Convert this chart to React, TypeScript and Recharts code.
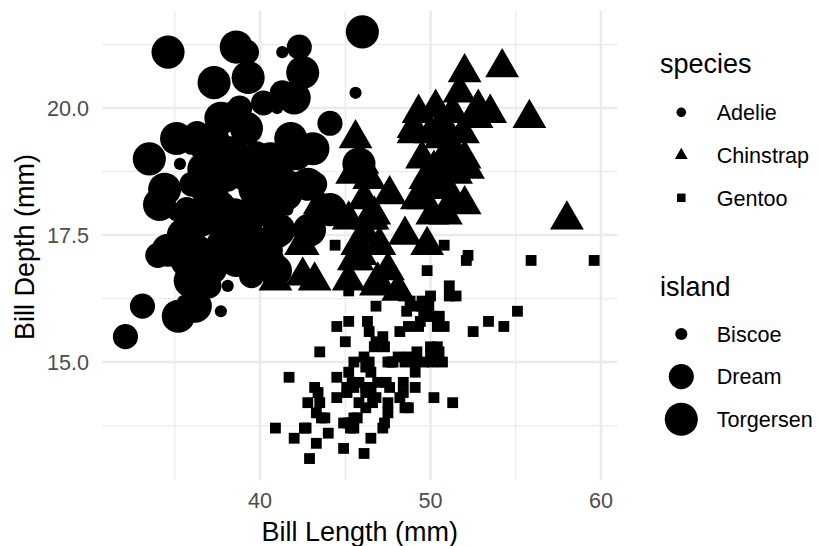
import React from 'react';
import { ScatterChart, Scatter, XAxis, YAxis, CartesianGrid } from 'recharts';

// ---- data (bill length mm, bill depth mm) ----
const adelieTorgersen: [number, number][] = [
  [39.1, 18.7], [39.5, 17.4], [40.3, 18.0], [36.7, 19.3], [39.3, 20.6], [38.9, 17.8], [39.2, 19.6], [34.1, 18.1],
  [42.0, 20.2], [37.8, 17.1], [37.8, 17.3], [41.1, 17.6], [38.6, 21.2], [34.6, 21.1], [36.6, 17.8], [38.7, 19.0],
  [42.5, 20.7], [34.4, 18.4], [46.0, 21.5],
  [35.9, 16.6], [41.8, 19.4], [33.5, 19.0], [39.7, 18.4], [39.6, 17.2], [45.8, 18.9], [35.5, 17.5], [42.8, 18.5],
  [40.9, 16.8], [37.2, 19.4], [36.2, 16.1], [42.1, 19.1], [34.6, 17.2], [42.9, 17.6], [36.7, 18.8], [35.1, 19.4],
  [38.6, 17.0], [37.3, 20.5], [35.7, 17.0], [41.1, 18.6], [36.2, 17.2], [37.7, 19.8], [40.2, 17.0], [41.4, 18.5],
  [35.2, 15.9], [40.6, 19.0], [38.8, 17.6], [41.5, 18.3], [39.0, 17.1], [44.1, 18.0], [38.5, 17.9], [43.1, 19.2],
];

const adelieBiscoe: [number, number][] = [
  [37.8, 18.3], [37.7, 18.7], [35.9, 19.2], [38.2, 18.1], [38.8, 17.2], [35.3, 18.9], [40.6, 18.6], [40.5, 17.9],
  [37.9, 18.6], [40.5, 18.9],
  [39.6, 17.7], [40.1, 18.9], [35.0, 17.9], [42.0, 19.5], [34.5, 18.1], [41.4, 18.6], [39.0, 17.5], [40.6, 18.8],
  [36.5, 16.6], [37.6, 19.1], [35.7, 16.9], [41.3, 21.1], [37.6, 17.0], [41.1, 18.2], [36.4, 17.1], [41.6, 18.0],
  [35.5, 16.2], [41.1, 19.1],
  [35.0, 17.9], [41.0, 20.0], [37.7, 16.0], [37.8, 20.0], [37.9, 18.6], [39.7, 18.9], [38.6, 17.2], [38.2, 20.0],
  [38.1, 17.0], [43.2, 19.0], [38.1, 16.5], [45.6, 20.3], [39.7, 17.7], [42.2, 19.5], [39.6, 20.7], [42.7, 18.3],
];

const adelieDream: [number, number][] = [
  [39.5, 16.7], [37.2, 18.1], [39.5, 17.8], [40.9, 18.9], [36.4, 17.0], [39.2, 21.1], [38.8, 20.0], [42.2, 18.5],
  [37.6, 19.3], [39.8, 19.1], [36.5, 18.0], [40.8, 18.4], [36.0, 18.5], [44.1, 19.7], [37.0, 16.9], [39.6, 18.8],
  [41.1, 19.0], [37.5, 18.9], [36.0, 17.9], [42.3, 21.2],
  [37.3, 17.8], [41.3, 20.3], [36.3, 19.5], [36.9, 18.6], [38.3, 19.2], [38.9, 18.8], [35.7, 18.0], [41.1, 18.1],
  [34.0, 17.1], [39.6, 18.1], [36.2, 17.3], [40.8, 18.9], [38.1, 18.6], [40.3, 18.5], [33.1, 16.1], [43.2, 18.5],
  [36.8, 18.5], [37.5, 18.5],
  [38.1, 17.6], [41.1, 17.5], [35.6, 17.5], [40.2, 20.1], [37.0, 16.5], [39.7, 17.9], [40.2, 17.1], [40.6, 17.2],
  [32.1, 15.5], [40.7, 17.0], [37.3, 16.8], [39.0, 18.7], [39.2, 18.6], [36.6, 18.4], [36.0, 17.8], [37.8, 18.1],
  [36.0, 17.1], [41.5, 18.5],
];

const chinstrapDream: [number, number][] = [
  [46.5, 17.9], [50.0, 19.5], [51.3, 19.2], [45.4, 18.7], [52.7, 19.8], [45.2, 17.8], [46.1, 18.2], [51.3, 18.2],
  [46.0, 18.9], [51.3, 19.9], [46.6, 17.8], [51.7, 20.3], [47.0, 17.3], [52.0, 18.1], [45.9, 17.1], [50.5, 19.6],
  [50.3, 20.0], [58.0, 17.8], [46.4, 18.6], [49.2, 18.2], [42.4, 17.3], [48.5, 17.5], [43.2, 16.6], [50.6, 19.4],
  [46.7, 17.9], [52.0, 19.0], [50.5, 18.4], [49.5, 19.0], [46.4, 17.8], [52.8, 20.0], [40.9, 16.6], [54.2, 20.8],
  [42.5, 16.7], [51.0, 18.8], [49.7, 18.6], [47.5, 16.8], [47.6, 18.3], [52.0, 20.7], [46.9, 16.6], [53.5, 19.9],
  [49.0, 19.5], [46.2, 17.5], [50.9, 19.1], [45.5, 17.0], [50.9, 17.9], [50.8, 18.5], [50.1, 17.9], [49.0, 19.6],
  [51.5, 18.7], [49.8, 17.3], [48.1, 16.4], [51.4, 19.0], [45.7, 17.3], [50.7, 19.7], [42.5, 17.3], [52.2, 18.8],
  [45.2, 16.6], [49.3, 19.9], [50.2, 18.8], [45.6, 19.4], [51.9, 19.5], [46.8, 16.5], [45.7, 17.0], [55.8, 19.8],
  [43.5, 18.1], [49.6, 18.2], [50.8, 19.0], [50.2, 18.7],
];

const gentooBiscoe: [number, number][] = [
  [46.1, 13.2], [50.0, 16.3], [48.7, 14.1], [50.0, 15.2], [47.6, 14.5], [46.5, 13.5], [45.4, 14.6], [46.7, 15.3],
  [43.3, 13.4], [46.8, 15.4], [40.9, 13.7], [49.0, 16.1], [45.5, 13.7], [48.4, 14.6], [45.8, 14.6], [49.3, 15.7],
  [42.0, 13.5], [49.2, 15.2], [46.2, 14.5], [48.7, 15.1], [50.2, 14.3], [45.1, 14.5], [46.5, 14.5], [46.3, 15.8],
  [42.9, 13.1], [46.1, 15.1], [44.5, 14.3], [47.8, 15.0], [48.2, 14.3], [50.0, 15.3], [47.3, 15.3], [42.8, 14.2],
  [45.1, 14.5], [59.6, 17.0], [49.1, 14.8], [48.4, 16.3], [42.6, 13.7], [44.4, 17.3], [44.0, 13.6], [48.7, 15.7],
  [42.7, 13.7], [49.6, 16.0], [45.3, 13.7], [49.6, 15.0], [50.5, 15.9], [43.6, 13.9], [45.5, 13.9], [50.5, 15.9],
  [44.9, 13.3], [45.2, 15.8], [46.6, 14.2], [48.5, 14.1], [45.1, 14.4], [50.1, 15.0], [46.5, 14.4], [45.0, 15.4],
  [43.8, 13.9], [45.5, 15.0], [43.2, 14.5], [50.4, 15.3], [45.3, 13.8], [46.2, 14.9], [45.7, 13.9], [54.3, 15.7],
  [45.8, 14.2], [49.8, 16.8], [46.2, 14.4], [49.5, 16.2], [43.5, 14.2], [50.7, 15.0], [47.7, 15.0], [46.4, 15.6],
  [48.2, 15.6], [46.5, 14.8], [46.4, 15.0], [48.6, 16.0], [47.5, 14.2], [51.1, 16.3], [45.2, 13.8], [45.2, 16.4],
  [49.1, 14.5], [52.5, 15.6], [47.4, 14.6], [50.0, 15.9], [44.9, 13.8], [50.8, 17.3], [43.4, 14.4], [51.3, 14.2],
  [47.5, 14.0], [52.1, 17.0], [47.5, 15.0], [52.2, 17.1], [45.5, 14.5], [49.5, 16.1], [44.5, 14.7], [50.8, 15.7],
  [49.4, 15.8], [46.9, 14.6], [48.4, 14.4], [51.1, 16.5], [48.5, 15.0], [55.9, 17.0], [47.2, 15.5], [49.1, 15.0],
  [47.3, 13.8], [46.8, 16.1], [41.7, 14.7], [53.4, 15.8], [43.3, 14.0], [48.1, 15.1], [50.5, 15.2], [49.8, 15.9],
  [43.5, 15.2], [51.5, 16.3], [46.2, 14.1], [55.1, 16.0], [44.5, 15.7], [48.8, 16.2], [47.2, 13.7], [46.8, 14.3],
  [50.4, 15.7], [45.2, 14.8], [49.9, 16.1],
];

const xTicks = [40, 50, 60];
const yTicks = [15, 17.5, 20];
const xMinor = [35, 45, 55];
const yMinor = [13.75, 16.25, 18.75, 21.25];
const speciesLabels = ['Adelie', 'Chinstrap', 'Gentoo'];
const islandLabels = ['Biscoe', 'Dream', 'Torgersen'];

// ---- styling ----
const FONT = '"Liberation Sans", Arial, Helvetica, sans-serif';
const islandRadius: Record<string, number> = { Biscoe: 6.1, Dream: 12.55, Torgersen: 16.55 };
const speciesKind: Record<string, string> = { Adelie: 'circle', Chinstrap: 'triangle', Gentoo: 'square' };

function Mark({ kind, cx, cy, r }: { kind: string; cx: number; cy: number; r: number }) {
  if (cx == null || cy == null || isNaN(cx) || isNaN(cy)) return null;
  if (kind === 'circle') return <circle cx={cx} cy={cy} r={r} fill="#000" />;
  if (kind === 'triangle') {
    const pts = [
      [cx, cy - 1.5551 * r],
      [cx + 1.3468 * r, cy + 0.7776 * r],
      [cx - 1.3468 * r, cy + 0.7776 * r],
    ]
      .map((p) => p.join(','))
      .join(' ');
    return <polygon points={pts} fill="#000" />;
  }
  const h = 0.8862 * r;
  return <rect x={cx - h} y={cy - h} width={2 * h} height={2 * h} fill="#000" />;
}

const toPts = (arr: [number, number][]) => arr.map(([x, y]) => ({ x, y }));

const groups = [
  { name: 'Adelie-Torgersen', data: toPts(adelieTorgersen), kind: 'circle', r: islandRadius.Torgersen },
  { name: 'Adelie-Biscoe', data: toPts(adelieBiscoe), kind: 'circle', r: islandRadius.Biscoe },
  { name: 'Adelie-Dream', data: toPts(adelieDream), kind: 'circle', r: islandRadius.Dream },
  { name: 'Chinstrap-Dream', data: toPts(chinstrapDream), kind: 'triangle', r: islandRadius.Dream },
  { name: 'Gentoo-Biscoe', data: toPts(gentooBiscoe), kind: 'square', r: islandRadius.Biscoe },
];

function Overlay() {
  const keyX = 681.3;
  const textX = 716.7;
  const speciesBase = [120, 163, 205.5];
  const islandBase = [341.7, 384.3, 427];
  const small = 4.79;
  return (
    <svg
      width={818}
      height={546}
      style={{ position: 'absolute', left: 0, top: 0, pointerEvents: 'none', fontFamily: FONT }}
    >
      <text x={359.8} y={541} textAnchor="middle" fontSize={27} fill="#000">
        Bill Length (mm)
      </text>
      <text x={33.5} y={247} textAnchor="middle" fontSize={27} fill="#000" transform="rotate(-90 33.5 247)">
        Bill Depth (mm)
      </text>
      <text x={660} y={73} fontSize={27} fill="#000">species</text>
      {speciesLabels.map((s, i) => (
        <g key={s}>
          <Mark kind={speciesKind[s]} cx={keyX} cy={speciesBase[i] - 7.7} r={small} />
          <text x={textX} y={speciesBase[i]} fontSize={21.6} fill="#000">{s}</text>
        </g>
      ))}
      <text x={660} y={296} fontSize={27} fill="#000">island</text>
      {islandLabels.map((s, i) => (
        <g key={s}>
          <Mark kind="circle" cx={keyX} cy={islandBase[i] - 7.7} r={islandRadius[s]} />
          <text x={textX} y={islandBase[i]} fontSize={21.6} fill="#000">{s}</text>
        </g>
      ))}
    </svg>
  );
}

export default function App() {
  return (
    <div style={{ position: 'absolute', left: 0, top: 0, width: 818, height: 546, background: '#fff', fontFamily: FONT }}>
      <ScatterChart width={818} height={546} margin={{ top: 10.5, right: 200.4, bottom: 0, left: 42 }}>
        <CartesianGrid horizontalValues={yMinor} verticalValues={xMinor} stroke="#EBEBEB" strokeWidth={1.3} />
        <CartesianGrid horizontalValues={yTicks} verticalValues={xTicks} stroke="#EBEBEB" strokeWidth={2.6} />
        <XAxis
          type="number"
          dataKey="x"
          domain={[30.725, 60.975]}
          allowDataOverflow
          ticks={xTicks}
          interval={0}
          height={66.1}
          axisLine={false}
          tickLine={false}
          tickSize={0}
          tickMargin={13}
          tick={{ fill: '#4D4D4D', fontSize: 21.6, fontFamily: FONT }}
        />
        <YAxis
          type="number"
          dataKey="y"
          domain={[12.68, 21.92]}
          allowDataOverflow
          ticks={yTicks}
          interval={0}
          width={60}
          axisLine={false}
          tickLine={false}
          tickSize={0}
          tickMargin={13}
          tickFormatter={(v: number) => v.toFixed(1)}
          tick={{ fill: '#4D4D4D', fontSize: 21.6, fontFamily: FONT }}
        />
        {groups.map((g) => (
          <Scatter
            key={g.name}
            name={g.name}
            data={g.data}
            isAnimationActive={false}
            shape={(p: any) => <Mark kind={g.kind} cx={p.cx} cy={p.cy} r={g.r} />}
          />
        ))}
      </ScatterChart>
      <Overlay />
    </div>
  );
}
